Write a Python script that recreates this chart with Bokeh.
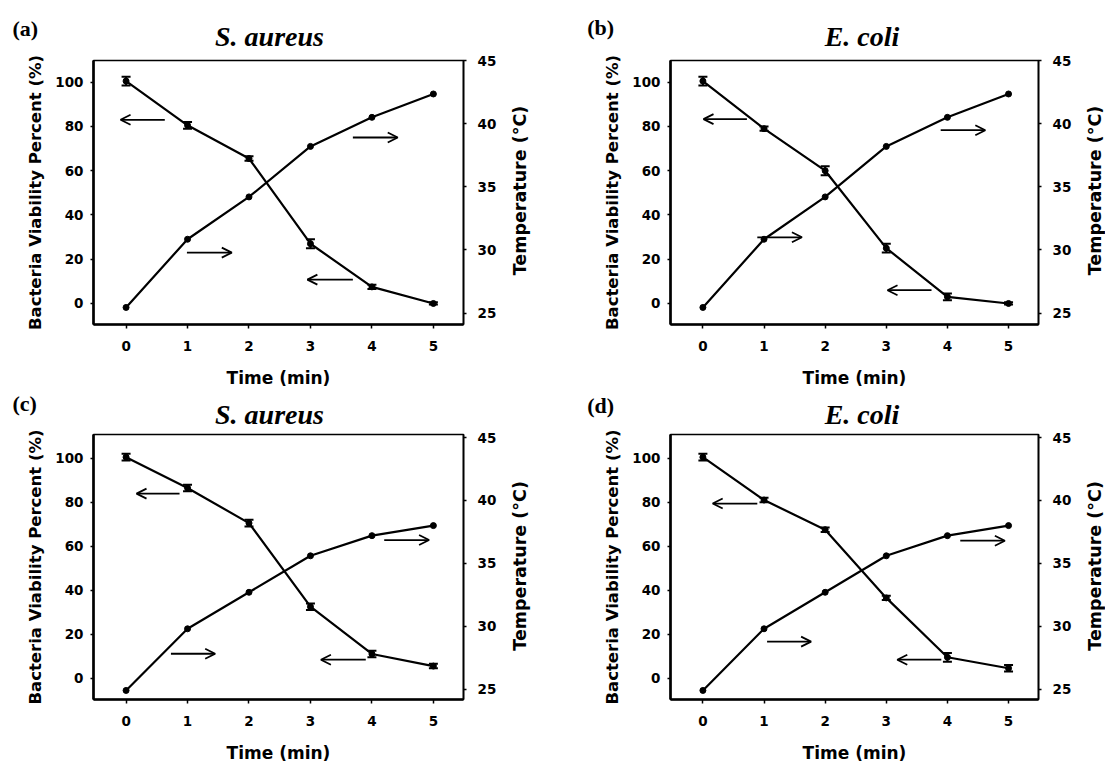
import math
from bokeh.plotting import figure
from bokeh.models import (ColumnDataSource, Range1d, LinearAxis, Whisker, TeeHead,
                          Arrow, OpenHead, Label, FixedTicker)
from bokeh.layouts import column, row
from bokeh.embed import file_html
from bokeh.resources import INLINE

# ---------------- data ----------------
time_min = [0, 1, 2, 3, 4, 5]
time_ticks = [0, 1, 2, 3, 4, 5]
viability_ticks = [0, 20, 40, 60, 80, 100]
temperature_ticks = [25, 30, 35, 40, 45]

viability_a = [100.5, 80.5, 65.5, 27.0, 7.5, 0.0]
viability_err_a = [2.0, 1.5, 1.0, 2.0, 1.0, 0.5]
viability_b = [100.5, 79.0, 60.0, 25.0, 3.0, 0.0]
viability_err_b = [2.0, 1.0, 2.0, 2.0, 1.5, 0.5]
viability_c = [100.5, 86.5, 70.5, 32.5, 11.0, 5.5]
viability_err_c = [1.5, 1.5, 1.5, 1.5, 1.5, 1.0]
viability_d = [100.5, 81.0, 67.5, 36.5, 9.5, 4.5]
viability_err_d = [1.5, 1.0, 1.0, 1.0, 2.0, 1.5]

temperature_ab = [25.45, 30.85, 34.2, 38.2, 40.5, 42.35]
temperature_cd = [24.9, 29.8, 32.7, 35.6, 37.2, 38.0]

panel_letters = ["(a)", "(b)", "(c)", "(d)"]
panel_titles = ["S. aureus", "E. coli", "S. aureus", "E. coli"]
x_label = "Time (min)"
y_label_left = "Bacteria Viability Percent (%)"
y_label_right = "Temperature (°C)"

# annotation arrows: (x_start, x_end, y) in time / viability units
arrows_a = [(0.63, -0.09, 83.0), (0.99, 1.72, 23.0), (3.69, 4.42, 75.0), (3.69, 2.95, 10.8)]
arrows_b = [(0.72, 0.01, 83.3), (0.89, 1.62, 29.9), (3.89, 4.62, 78.3), (3.74, 3.02, 6.0)]
arrows_c = [(0.87, 0.17, 83.9), (0.73, 1.45, 11.1), (4.20, 4.93, 62.8), (3.90, 3.17, 8.4)]
arrows_d = [(0.89, 0.16, 79.4), (1.05, 1.77, 16.6), (4.21, 4.94, 62.5), (3.90, 3.18, 8.4)]

SANS = "DejaVu Sans"
SERIF = "Liberation Serif"
W = 1105
BASE_FIX = 9.5    # compensation for label baseline placement
ROT_FIX = 64      # compensation for rotated label placement


def blank_figure(w, h):
    s = figure(width=w, height=h, output_backend="svg", toolbar_location=None,
               x_range=Range1d(0, w), y_range=Range1d(0, h),
               x_axis_location=None, y_axis_location=None,
               min_border=0, min_border_left=0, min_border_right=0,
               min_border_top=0, min_border_bottom=0,
               background_fill_color="white", border_fill_color="white")
    s.grid.visible = False
    s.outline_line_color = None
    return s


def make_panel(fig_w, fig_h, fl, fr, ft, fb, yl, yr, via, err, temp, arrows):
    p = figure(width=fig_w, height=fig_h, output_backend="svg", toolbar_location=None,
               x_range=Range1d(-0.53, 5.49), y_range=Range1d(*yl),
               min_border_left=fl, min_border_right=fig_w - fr,
               min_border_top=ft, min_border_bottom=fig_h - fb,
               background_fill_color="white", border_fill_color="white")
    p.extra_y_ranges = {"temp": Range1d(*yr)}
    p.add_layout(LinearAxis(y_range_name="temp"), "right")
    p.grid.visible = False
    p.outline_line_color = "black"
    p.outline_line_width = 1.6

    for ax in p.axis:
        ax.major_tick_in = 0
        ax.major_tick_out = 4
        ax.major_tick_line_width = 1.5
        ax.major_tick_line_color = "black"
        ax.minor_tick_line_color = None
        ax.major_label_text_font = SANS
        ax.major_label_text_font_style = "bold"
        ax.major_label_text_font_size = "13.5px"
        ax.major_label_text_color = "black"
        ax.axis_line_color = "black"
        ax.axis_label_text_font = SANS
        ax.axis_label_text_font_style = "bold"
        ax.axis_label_text_color = "black"

    bottom_ax = p.below[0]
    bottom_ax.ticker = FixedTicker(ticks=time_ticks)
    bottom_ax.axis_line_width = 2.6
    bottom_ax.major_label_standoff = 12
    bottom_ax.axis_label = x_label
    bottom_ax.axis_label_text_font_size = "17px"
    bottom_ax.axis_label_standoff = 14

    left_ax = p.left[0]
    left_ax.ticker = FixedTicker(ticks=viability_ticks)
    left_ax.axis_line_width = 2.6
    left_ax.major_tick_out = 3
    left_ax.major_label_standoff = 7
    left_ax.axis_label = y_label_left
    left_ax.axis_label_text_font_size = "16.5px"
    left_ax.axis_label_standoff = 7

    right_ax = p.right[0]
    right_ax.ticker = FixedTicker(ticks=temperature_ticks)
    right_ax.axis_line_width = 1.6
    right_ax.major_tick_out = 3
    right_ax.major_label_standoff = 11

    # viability series with error bars
    src = ColumnDataSource(dict(t=time_min, v=via,
                                lo=[v - e for v, e in zip(via, err)],
                                hi=[v + e for v, e in zip(via, err)]))
    p.line("t", "v", source=src, line_width=2.2, line_color="black")
    p.scatter("t", "v", source=src, size=6, color="black")
    p.add_layout(Whisker(base="t", lower="lo", upper="hi", source=src,
                         line_width=2, line_color="black",
                         upper_head=TeeHead(size=9, line_width=2, line_color="black"),
                         lower_head=TeeHead(size=9, line_width=2, line_color="black")))

    # temperature series on right axis
    tsrc = ColumnDataSource(dict(t=time_min, temp=temp))
    p.line("t", "temp", source=tsrc, y_range_name="temp", line_width=2.2, line_color="black")
    p.scatter("t", "temp", source=tsrc, y_range_name="temp", size=6, color="black")

    for xs, xe, y in arrows:
        p.add_layout(Arrow(end=OpenHead(size=10, line_width=1.8, line_color="black"),
                           x_start=xs, y_start=y, x_end=xe, y_end=y,
                           line_width=1.8, line_color="black"))
    return p


def make_strip(h, items):
    s = blank_figure(W, h)
    for (txt, x, y, style, size, align) in items:
        s.add_layout(Label(x=x, y=y + BASE_FIX, x_units="screen", y_units="screen", text=txt,
                           text_font=SERIF, text_font_style=style, text_font_size=size,
                           text_align=align, text_baseline="alphabetic", text_color="black"))
    return s


def make_vstrip(w, h, x, y):
    s = blank_figure(w, h)
    s.add_layout(Label(x=x, y=y - ROT_FIX, x_units="screen", y_units="screen", text=y_label_right,
                       text_font=SANS, text_font_style="bold", text_font_size="17.5px",
                       text_align="center", text_baseline="middle", angle=math.pi / 2,
                       text_color="black"))
    return s


TOP_STRIP_H = 52   # canvas y 0..52
BOT_STRIP_H = 39   # canvas y 390..429

strip_top = make_strip(TOP_STRIP_H, [
    (panel_letters[0], 12, TOP_STRIP_H - 37.3, "bold", "22px", "left"),
    (panel_titles[0], 269, TOP_STRIP_H - 45, "bold italic", "28px", "center"),
    (panel_letters[1], 586.7, TOP_STRIP_H - 36, "bold", "22px", "left"),
    (panel_titles[1], 861.5, TOP_STRIP_H - 45, "bold italic", "28px", "center"),
])
strip_bot = make_strip(BOT_STRIP_H, [
    (panel_letters[2], 12, BOT_STRIP_H - 22.7, "bold", "22px", "left"),
    (panel_titles[2], 269, BOT_STRIP_H - 33, "bold italic", "28px", "center"),
    (panel_letters[3], 586.7, BOT_STRIP_H - 24.3, "bold", "22px", "left"),
    (panel_titles[3], 861.5, BOT_STRIP_H - 33, "bold italic", "28px", "center"),
])

top_yl = (-9.5, 109.8)
top_yr = (24.1, 45.0)
bot_yl = (-9.7, 110.8)
bot_yr = (24.18, 45.24)

TOP_H = 338   # canvas y 52..390 ; frame y 60..324
BOT_H = 336   # canvas y 429..765 ; frame y 434..701

pa = make_panel(500, TOP_H, 93, 463, 8, 272, top_yl, top_yr, viability_a, viability_err_a,
                temperature_ab, arrows_a)
va = make_vstrip(40, TOP_H, 19, TOP_H - 140)
pb = make_panel(535, TOP_H, 130, 498, 8, 272, top_yl, top_yr, viability_b, viability_err_b,
                temperature_ab, arrows_b)
vb = make_vstrip(30, TOP_H, 19, TOP_H - 140)

pc = make_panel(500, BOT_H, 93, 463, 5, 272, bot_yl, bot_yr, viability_c, viability_err_c,
                temperature_cd, arrows_c)
vc = make_vstrip(40, BOT_H, 19, BOT_H - 138.4)
pd = make_panel(535, BOT_H, 130, 498, 5, 272, bot_yl, bot_yr, viability_d, viability_err_d,
                temperature_cd, arrows_d)
vd = make_vstrip(30, BOT_H, 19, BOT_H - 138.4)

layout = column(strip_top, row(pa, va, pb, vb, spacing=0), strip_bot,
                row(pc, vc, pd, vd, spacing=0), spacing=0)
open("out.html", "w").write(file_html(layout, INLINE))
